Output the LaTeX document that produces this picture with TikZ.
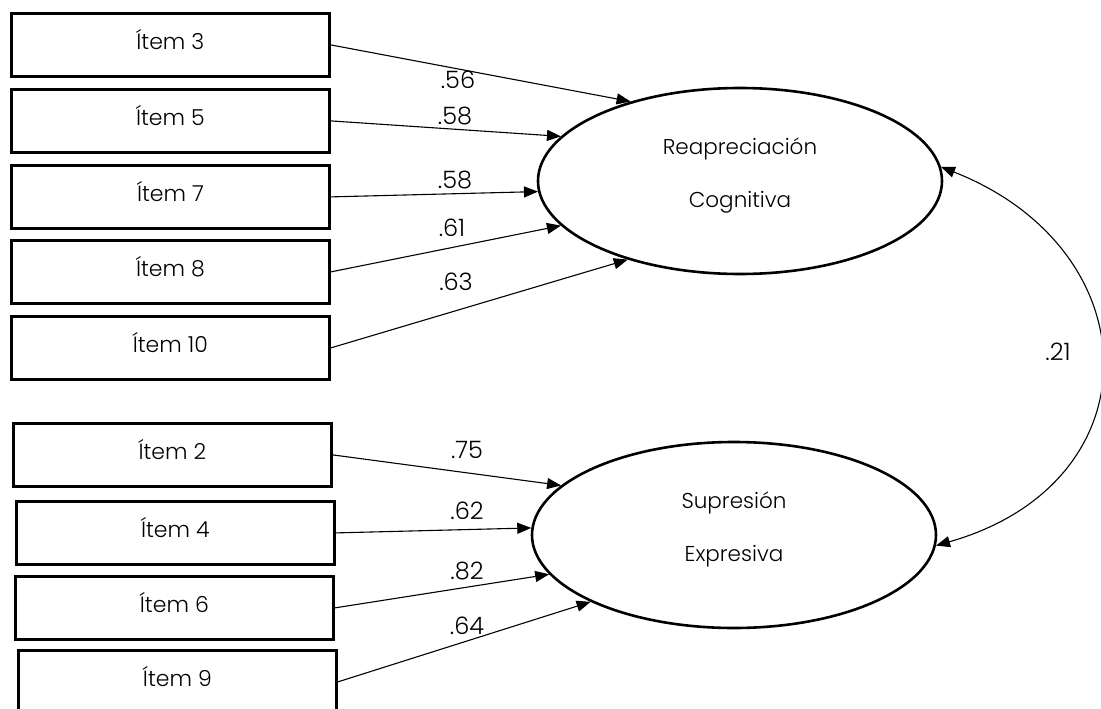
\documentclass[tikz,border=0pt]{standalone}
\usepackage{fontspec}
\setmainfont{Poppins Light}
\usetikzlibrary{shapes.geometric,arrows.meta}
\begin{document}
\begin{tikzpicture}[x=1pt,y=-1pt,
  itembox/.style={draw,line width=2.8pt,rectangle,minimum width=318pt,minimum height=63pt,
    inner sep=0pt,font=\fontsize{22}{26}\selectfont,anchor=north west,
    text height=14pt,text depth=5pt},
  factor/.style={draw,line width=2.6pt,ellipse,minimum width=404pt,minimum height=186pt,
    inner sep=0pt,align=center,font=\fontsize{21.5}{53}\selectfont,text depth=16pt},
  loading/.style={line width=1.1pt,-{Triangle[length=14pt,width=11pt]}},
  coef/.style={font=\fontsize{24}{28}\selectfont,inner sep=0pt}]
\useasboundingbox (0,0) rectangle (1101,709);

% latent factors
\node[factor] (e1) at (740,181) {Reapreciación\\Cognitiva};
\node[factor] (e2) at (734,535) {Supresión\\Expresiva};

% indicators of the first factor
\node[itembox] (i3)  at (10,12)  {Ítem 3};
\node[itembox] (i5)  at (10,88)  {Ítem 5};
\node[itembox] (i7)  at (10,164) {Ítem 7};
\node[itembox] (i8)  at (10,239) {Ítem 8};
\node[itembox] (i10) at (10,315) {Ítem 10};

% indicators of the second factor
\node[itembox] (i2) at (12,422) {Ítem 2};
\node[itembox] (i4) at (15,500) {Ítem 4};
\node[itembox] (i6) at (14,575) {Ítem 6};
\node[itembox] (i9) at (17,649) {Ítem 9};

% factor loadings
\draw[loading] (i3.east)  -- (e1.144.8);
\draw[loading] (i5.east)  -- (e1.166.8);
\draw[loading] (i7.east)  -- (e1.183.9);
\draw[loading] (i8.east)  -- (e1.194.6);
\draw[loading] (i10.east) -- (e1.215.2);

\draw[loading] (i2.east) -- (e2.164.1);
\draw[loading] (i4.east) -- (e2.178);
\draw[loading] (i6.east) -- (e2.192.3);
\draw[loading] (i9.east) -- (e2.205.6);

\node[coef] (c3)  at (458,80)  {.56};
\node[coef] (c5)  at (455,116) {.58};
\node[coef] (c7)  at (455,180) {.58};
\node[coef] (c8)  at (452,228) {.61};
\node[coef] (c10) at (456,282) {.63};

\node[coef] (c2) at (467,450) {.75};
\node[coef] (c4) at (467,511) {.62};
\node[coef] (c6) at (467,571) {.82};
\node[coef] (c9) at (467,626) {.64};

% factor covariance
\draw[line width=1.1pt,{Triangle[length=14pt,width=11pt]}-{Triangle[length=14pt,width=11pt]}]
  (e1.4.7) .. controls +(211,83) and +(221,-63) .. (e2.357.7);
\node[coef] (c21) at (1058,352) {.21};
\end{tikzpicture}
\end{document}
